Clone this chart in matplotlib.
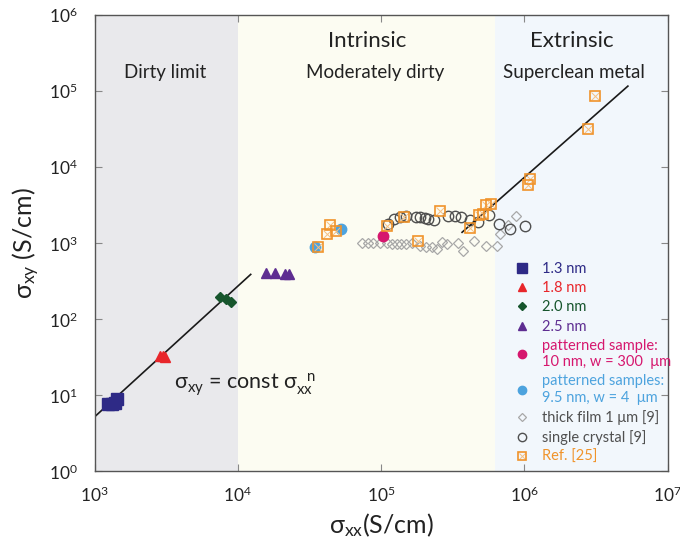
#Anomalous Hall conductivity vs longitudinal conductivity scaling plot
#plot.py

import numpy as np
import matplotlib.pyplot as plt

plt.rcParams['font.family'] = ['Lato', 'DejaVu Sans']
plt.rcParams['mathtext.fontset'] = 'custom'
plt.rcParams['mathtext.rm'] = 'Lato'
plt.rcParams['mathtext.default'] = 'regular'

#data (sigma_xx, sigma_xy in S/cm)
nm13_x = [1250, 1320, 1400, 1430]
nm13_y = [7.6, 7.8, 8.0, 9.0]
nm18_x = [2850, 3000, 3100]
nm18_y = [33, 32.5, 31.5]
nm20_x = [7500, 8260, 8950]
nm20_y = [196, 185, 170]
nm25_x = [15600, 18200, 21300, 22800]
nm25_y = [405, 405, 395, 390]
pat10_x = [1.03e5]
pat10_y = [1260]
pat95_x = [3.43e4, 5.26e4]
pat95_y = [886, 1556]
film_x = [7.38e4, 8.04e4, 8.79e4, 9.79e4, 1.10e5, 1.20e5, 1.28e5, 1.37e5, 1.49e5, 1.64e5,
          1.88e5, 2.05e5, 2.25e5, 2.47e5, 2.64e5, 2.86e5, 3.44e5, 3.73e5, 4.43e5, 5.37e5,
          6.41e5, 6.80e5, 7.69e5, 8.80e5]
film_y = [1000, 1000, 1000, 1000, 1000, 979, 979, 979, 979, 1000,
          930, 903, 886, 841, 1050, 979, 1000, 792, 1082, 921,
          921, 1325, 1741, 2287]
crystal_x = [1.11e5, 1.23e5, 1.35e5, 1.49e5, 1.75e5, 1.86e5, 2.02e5, 2.12e5, 2.33e5,
             2.92e5, 3.27e5, 3.60e5, 4.16e5, 4.73e5, 5.63e5, 6.62e5, 7.89e5, 1.005e6]
crystal_y = [1795, 2088, 2218, 2286, 2218, 2218, 2153, 2088, 2027,
             2286, 2286, 2218, 2027, 1906, 2354, 1795, 1542, 1690]
ref25_x = [3.64e4, 4.20e4, 4.41e4, 4.83e4, 1.10e5, 1.45e5, 1.81e5, 2.57e5, 4.15e5,
           4.82e5, 5.10e5, 5.37e5, 5.82e5, 1.06e6, 1.09e6, 2.77e6, 3.11e6]
ref25_y = [902, 1313, 1726, 1439, 1675, 2198, 1063, 2661, 1575,
           2356, 2430, 3190, 3260, 5800, 7020, 31600, 86700]

#scaling lines sigma_xy = const * sigma_xx^n (end points)
fit_lo_x = [1.0e3, 1.23e4]
fit_lo_y = [5.2, 390]
fit_hi_x = [3.67e5, 5.27e6]
fit_hi_y = [1396, 1.17e5]

#regime borders
dirty_edge = 1e4
clean_edge = 6.2e5

fig = plt.figure(figsize=(6.8, 5.42), dpi=100)
ax = fig.add_axes([0.139, 0.1304, 0.843, 0.8414])
ax.set_xscale('log')
ax.set_yscale('log')
ax.set_xlim(1e3, 1e7)
ax.set_ylim(1e0, 1e6)

#background shading for the three regimes
ax.axvspan(1e3, dirty_edge, color='#e9e9ec', lw=0, zorder=0)
ax.axvspan(dirty_edge, clean_edge, color='#fcfcf2', lw=0, zorder=0)
ax.axvspan(clean_edge, 1e7, color='#f2f7fc', lw=0, zorder=0)

#fit lines
ax.plot(fit_lo_x, fit_lo_y, color='#1a1a1a', lw=1.2, zorder=2)
ax.plot(fit_hi_x, fit_hi_y, color='#1a1a1a', lw=1.2, zorder=4)

#data sets
h_film, = ax.plot(film_x, film_y, 'D', ms=5.5, mfc='none', mec='#a8a8a8', mew=0.9, ls='none', zorder=3)
h_cry, = ax.plot(crystal_x, crystal_y, 'o', ms=7.5, mfc='none', mec='#505050', mew=1.0, ls='none', zorder=3)
h13, = ax.plot(nm13_x, nm13_y, 's', ms=8.5, color='#2e2a86', ls='none', zorder=5)
h18, = ax.plot(nm18_x, nm18_y, '^', ms=7.5, color='#e8262b', ls='none', zorder=5)
h20, = ax.plot(nm20_x, nm20_y, 'D', ms=5.5, color='#16552c', ls='none', zorder=5)
h25, = ax.plot(nm25_x, nm25_y, '^', ms=7, color='#5e2d91', ls='none', zorder=5)
h_p10, = ax.plot(pat10_x, pat10_y, 'o', ms=7.5, color='#d6176e', ls='none', zorder=5)
h_p95, = ax.plot(pat95_x, pat95_y, 'o', ms=7.5, color='#4da3de', ls='none', zorder=5)
h_rx, = ax.plot(ref25_x, ref25_y, 'x', ms=5.5, color='#f6bf80', mew=0.7, ls='none', zorder=6)
h_rs, = ax.plot(ref25_x, ref25_y, 's', ms=7, mfc='none', mec='#f0932a', mew=1.2, ls='none', zorder=6)

#legend, text coloured like the markers
leg_handles = [h13, h18, h20, h25, h_p10, h_p95, h_film, h_cry, (h_rx, h_rs)]
leg_labels = ['1.3 nm', '1.8 nm', '2.0 nm', '2.5 nm',
              u'patterned sample:\n10 nm, w = 300  \u03bcm',
              u'patterned samples:\n9.5 nm, w = 4  \u03bcm',
              u'thick film 1 \u03bcm [9]', 'single crystal [9]', 'Ref. [25]']
text_colors = ['#2e2a86', '#e8262b', '#16552c', '#5e2d91', '#d6176e', '#4da3de',
               '#505050', '#505050', '#f0932a']
leg = ax.legend(leg_handles, leg_labels, loc='upper left',
                bbox_to_anchor=(0.71, 0.488), frameon=False, fontsize=10.5,
                labelspacing=0.36, handletextpad=0.9, handlelength=1.0,
                markerscale=0.8, labelcolor=text_colors)

#regime labels
ax.text(0.123, 0.862, 'Dirty limit', transform=ax.transAxes, ha='center', fontsize=13.5,
        color='#222222')
ax.text(0.475, 0.93, 'Intrinsic', transform=ax.transAxes, ha='center', fontsize=16,
        color='#222222')
ax.text(0.489, 0.862, 'Moderately dirty', transform=ax.transAxes, ha='center', fontsize=13.5,
        color='#222222')
ax.text(0.833, 0.93, 'Extrinsic', transform=ax.transAxes, ha='center', fontsize=16,
        color='#222222')
ax.text(0.836, 0.862, 'Superclean metal', transform=ax.transAxes, ha='center', fontsize=13.5,
        color='#222222')

#scaling law
ax.text(0.139, 0.18, r'$\sigma_{xy}$ = const $\sigma_{xx}^{\ \ n}$', transform=ax.transAxes,
        fontsize=15.5, color='#222222')

ax.set_xlabel(r'$\sigma_{xx}$(S/cm)', fontsize=18, color='#222222', labelpad=5)
ax.set_ylabel(r'$\sigma_{xy}$ (S/cm)', fontsize=18, color='#222222', labelpad=5)

ax.tick_params(which='major', direction='in', length=5, top=True, right=True,
               labelsize=12.5, color='#888888', labelcolor='#222222')
ax.tick_params(axis='x', which='major', pad=10)
ax.tick_params(axis='y', which='major', pad=12)
ax.tick_params(which='minor', length=0)
ax.set_xticks([1e3, 1e4, 1e5, 1e6, 1e7])
ax.set_yticks([1e0, 1e1, 1e2, 1e3, 1e4, 1e5, 1e6])
for s in ax.spines.values():
    s.set_color('#555555')
    s.set_linewidth(1.0)

plt.savefig('out.png', dpi=100)
